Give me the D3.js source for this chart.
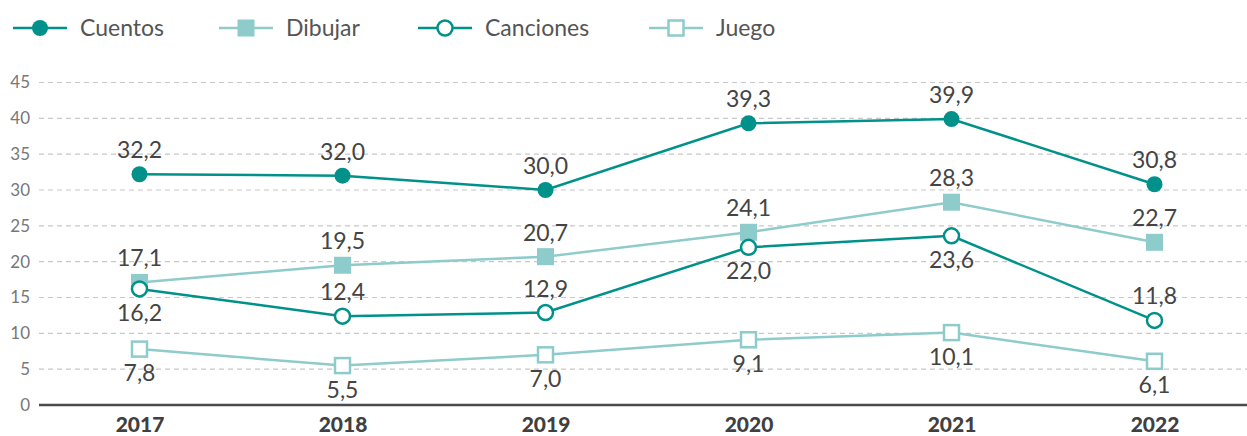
<!DOCTYPE html>
<html>
<head>
<meta charset="utf-8">
<script src="https://cdn.jsdelivr.net/npm/d3@7"></script>
<style>
  body { margin: 0; background: #fff; }
  svg { display: block; font-family: Lato, "Open Sans", sans-serif; }
</style>
</head>
<body>
<svg id="svg" width="1247" height="436"></svg>
<script>
var years = ["2017", "2018", "2019", "2020", "2021", "2022"];
var cuentos = [32.2, 32.0, 30.0, 39.3, 39.9, 30.8];
var dibujar = [17.1, 19.5, 20.7, 24.1, 28.3, 22.7];
var canciones = [16.2, 12.4, 12.9, 22.0, 23.6, 11.8];
var juego = [7.8, 5.5, 7.0, 9.1, 10.1, 6.1];
var yTicks = [0, 5, 10, 15, 20, 25, 30, 35, 40, 45];

(function() {
  'use strict';

  var dark = "#00918a", light = "#8ecbcb";

  // series setup: marker shape, fill, label side per point (1 = above, 0 = below)
  var series = [
    { name: "Cuentos", values: cuentos, color: dark, shape: "circle", filled: true, above: [1, 1, 1, 1, 1, 1] },
    { name: "Dibujar", values: dibujar, color: light, shape: "square", filled: true, above: [1, 1, 1, 1, 1, 1] },
    { name: "Canciones", values: canciones, color: dark, shape: "circle", filled: false, above: [0, 1, 1, 0, 0, 1] },
    { name: "Juego", values: juego, color: light, shape: "square", filled: false, above: [0, 0, 0, 0, 0, 0] }
  ];

  var svg = d3.select("#svg");

  var x = d3.scalePoint()
    .domain(years)
    .range([38, 1256])
    .padding(0.5);

  var y = d3.scaleLinear()
    .domain([0, 45])
    .range([405, 82.5]);

  // grid lines
  svg.append("g").selectAll("line")
    .data(yTicks.filter(function(d) { return d > 0; }))
    .join("line")
    .attr("x1", 39).attr("x2", 1247)
    .attr("y1", function(d) { return y(d); })
    .attr("y2", function(d) { return y(d); })
    .attr("stroke", "#c8c8c8")
    .attr("stroke-width", 1.2)
    .attr("stroke-dasharray", "5,4");

  // y axis labels
  var yAxis = svg.append("g")
    .attr("transform", "translate(30,0)")
    .call(d3.axisLeft(y).tickValues(yTicks).tickSize(0).tickPadding(0));
  yAxis.select(".domain").remove();
  yAxis.selectAll("text")
    .attr("fill", "#777")
    .style("font-size", "17px")
    .style("font-family", "Lato, sans-serif");

  // x axis
  var xAxis = svg.append("g")
    .attr("transform", "translate(0,405)")
    .call(d3.axisBottom(x).tickSize(0).tickPadding(12));
  xAxis.select(".domain").remove();
  xAxis.append("line")
    .attr("x1", 39).attr("x2", 1247)
    .attr("stroke", "#4a4a4a")
    .attr("stroke-width", 2.5);
  xAxis.selectAll("text")
    .attr("fill", "#404040")
    .attr("dy", "0.71em")
    .style("font-size", "21px")
    .style("font-weight", "900")
    .style("font-family", "Lato, sans-serif");

  var line = d3.line()
    .x(function(d, i) { return x(years[i]); })
    .y(function(d) { return y(d); });

  function drawMarker(sel, s) {
    if (s.shape === "circle") {
      sel.append("circle")
        .attr("r", s.filled ? 8 : 7.5)
        .attr("fill", s.filled ? s.color : "#fff")
        .attr("stroke", s.color)
        .attr("stroke-width", s.filled ? 0 : 2.5);
    } else {
      var h = s.filled ? 8.5 : 7.5;
      sel.append("rect")
        .attr("x", -h).attr("y", -h)
        .attr("width", h * 2).attr("height", h * 2)
        .attr("fill", s.filled ? s.color : "#fff")
        .attr("stroke", s.color)
        .attr("stroke-width", s.filled ? 0 : 2.5);
    }
  }

  // lines first, then markers on top
  series.forEach(function(s) {
    svg.append("path")
      .attr("d", line(s.values))
      .attr("fill", "none")
      .attr("stroke", s.color)
      .attr("stroke-width", 2.5);
  });

  series.forEach(function(s) {
    var g = svg.append("g");
    s.values.forEach(function(v, i) {
      var m = g.append("g")
        .attr("transform", "translate(" + [x(years[i]), y(v)] + ")");
      drawMarker(m, s);
      g.append("text")
        .attr("x", x(years[i]))
        .attr("y", y(v) + (s.above[i] ? -16 : 32))
        .attr("text-anchor", "middle")
        .attr("fill", "#444")
        .style("font-size", "23px")
        .text(d3.format(".1f")(v).replace(".", ","));
    });
  });

  // legend
  var legendX = [13, 219, 418, 649];
  series.forEach(function(s, i) {
    var lg = svg.append("g")
      .attr("transform", "translate(" + [legendX[i], 28] + ")");
    lg.append("line")
      .attr("x1", 0).attr("x2", 54)
      .attr("stroke", s.color)
      .attr("stroke-width", 2.5);
    var m = lg.append("g").attr("transform", "translate(27,0)");
    drawMarker(m, s);
    lg.append("text")
      .attr("x", 67)
      .attr("dy", "0.35em")
      .attr("fill", "#555")
      .style("font-size", "23px")
      .text(s.name);
  });
}());
</script>
</body>
</html>
